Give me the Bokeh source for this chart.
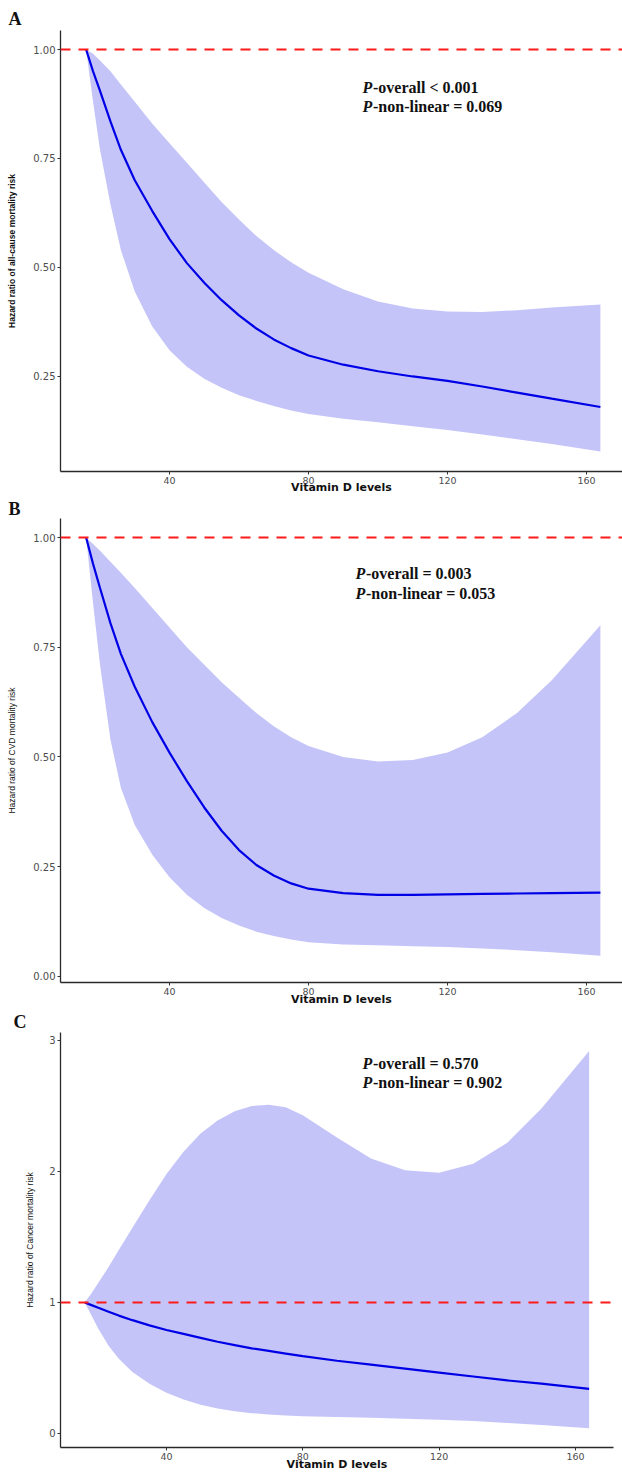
from bokeh.plotting import figure
from bokeh.layouts import column
from bokeh.models import Span, Label, FixedTicker, Range1d, PrintfTickFormatter
from bokeh.embed import file_html
from bokeh.resources import INLINE

# ---------------- data ----------------
vitd = [16, 18, 20, 23, 26, 30, 35, 40, 45, 50, 55, 60, 65, 70, 75, 80, 90, 100, 110, 120, 130, 140, 150, 164]

hr_all = [1.00, 0.95, 0.905, 0.835, 0.77, 0.70, 0.63, 0.565, 0.51, 0.465, 0.425, 0.39, 0.36, 0.335, 0.315, 0.298,
          0.277, 0.262, 0.25, 0.24, 0.227, 0.213, 0.199, 0.18]
hr_all_lo = [1.00, 0.88, 0.77, 0.645, 0.54, 0.445, 0.365, 0.31, 0.272, 0.245, 0.224, 0.207, 0.194, 0.182, 0.172, 0.164,
             0.153, 0.145, 0.136, 0.127, 0.117, 0.106, 0.095, 0.078]
hr_all_hi = [1.00, 0.99, 0.975, 0.95, 0.92, 0.88, 0.83, 0.785, 0.74, 0.695, 0.65, 0.61, 0.572, 0.54, 0.512, 0.488,
             0.45, 0.422, 0.406, 0.399, 0.398, 0.402, 0.408, 0.415]

hr_cvd = [1.00, 0.94, 0.885, 0.805, 0.735, 0.66, 0.58, 0.51, 0.445, 0.385, 0.332, 0.288, 0.254, 0.23, 0.212, 0.2,
          0.19, 0.186, 0.186, 0.187, 0.188, 0.189, 0.19, 0.191]
hr_cvd_lo = [1.00, 0.85, 0.71, 0.54, 0.43, 0.345, 0.278, 0.226, 0.186, 0.156, 0.133, 0.116, 0.102, 0.092, 0.084, 0.078,
             0.073, 0.071, 0.069, 0.067, 0.064, 0.06, 0.055, 0.047]
hr_cvd_hi = [1.00, 0.985, 0.97, 0.945, 0.92, 0.885, 0.84, 0.795, 0.75, 0.71, 0.67, 0.635, 0.60, 0.57, 0.545, 0.525,
             0.50, 0.49, 0.493, 0.51, 0.545, 0.60, 0.675, 0.80]

hr_cancer = [1.00, 0.98, 0.96, 0.93, 0.90, 0.865, 0.825, 0.79, 0.76, 0.73, 0.70, 0.675, 0.65, 0.63, 0.61, 0.59,
             0.555, 0.525, 0.495, 0.465, 0.435, 0.405, 0.38, 0.34]
hr_cancer_lo = [1.00, 0.90, 0.80, 0.67, 0.57, 0.47, 0.38, 0.31, 0.26, 0.22, 0.19, 0.17, 0.155, 0.145, 0.138, 0.132,
                0.125, 0.12, 0.113, 0.105, 0.095, 0.08, 0.065, 0.04]
hr_cancer_hi = [1.00, 1.07, 1.15, 1.27, 1.40, 1.57, 1.78, 1.98, 2.15, 2.29, 2.39, 2.46, 2.50, 2.51, 2.49, 2.43,
                2.26, 2.10, 2.01, 1.99, 2.06, 2.22, 2.48, 2.92]

x_ticks = [40, 80, 120, 160]
y_ticks_a = [0.25, 0.50, 0.75, 1.00]
y_ticks_b = [0.00, 0.25, 0.50, 0.75, 1.00]
y_ticks_c = [0, 1, 2, 3]

panel_letters = ["A", "B", "C"]
y_titles = ["Hazard ratio of all-cause mortality risk",
            "Hazard ratio of CVD mortality risk",
            "Hazard ratio of Cancer mortality risk"]
x_title = "Vitamin D levels"
p_overall = ["-overall < 0.001", "-overall = 0.003", "-overall = 0.570"]
p_nonlinear = ["-non-linear = 0.069", "-non-linear = 0.053", "-non-linear = 0.902"]

# ---------------- layout (page pixel geometry, origin top-left) ----------------
PAGE_W = 622
specs = [
    dict(ct=0, cb=496, fl=60, fr=622, ft=30, fb=471, xr=(8.63, 170.36), yr=(0.032, 1.0436),
         ticks=y_ticks_a, fmt="%.2f", ylab_standoff=13, ytitle_bold=True, letter_off=-52, letter_so=3,
         ptext=(362, 87, 106), xlab_standoff=-6),
    dict(ct=496, cb=1008, fl=60, fr=622, ft=518, fb=982, xr=(8.63, 170.36), yr=(-0.0137, 1.0433),
         ticks=y_ticks_b, fmt="%.2f", ylab_standoff=13, ytitle_bold=False, letter_off=-52, letter_so=0,
         ptext=(355, 573, 593), xlab_standoff=-5),
    dict(ct=1008, cb=1473, fl=55, fr=608, ft=1032, fb=1447, xr=(8.90, 171.15), yr=(-0.107, 3.061),
         ticks=y_ticks_c, fmt="%d", ylab_standoff=11, ytitle_bold=False, letter_off=-47, letter_so=1,
         ptext=(357, 1063, 1082), xlab_standoff=-5),
]
series = [(hr_all, hr_all_lo, hr_all_hi), (hr_cvd, hr_cvd_lo, hr_cvd_hi), (hr_cancer, hr_cancer_lo, hr_cancer_hi)]


def make_panel(i):
    s = specs[i]
    hr, lo, hi = series[i]
    fl, fr, ft, fb = s["fl"], s["fr"], s["ft"], s["fb"]
    x0, x1 = s["xr"]
    y0, y1 = s["yr"]

    def px2x(px):
        return x0 + (px - fl) * (x1 - x0) / (fr - fl)

    def py2y(py):
        return y1 - (py - ft) * (y1 - y0) / (fb - ft)

    p = figure(frame_width=fr - fl, frame_height=fb - ft,
               min_border_left=fl, min_border_right=PAGE_W - fr,
               min_border_top=ft - s["ct"], min_border_bottom=s["cb"] - fb,
               x_range=Range1d(x0, x1), y_range=Range1d(y0, y1),
               output_backend="svg", toolbar_location=None, title=panel_letters[i],
               background_fill_color="white", border_fill_color="white",
               outline_line_color=None)
    p.grid.visible = False

    # panel letter as title
    p.title.align = "left"
    p.title.offset = s["letter_off"]
    p.title.standoff = s["letter_so"]
    p.title.text_font = "Liberation Serif"
    p.title.text_font_style = "bold"
    p.title.text_font_size = "18px"
    p.title.text_color = "#111111"

    for ax in (p.xaxis[0], p.yaxis[0]):
        ax.axis_line_color = "#2a2a2a"
        ax.axis_line_width = 1.3
        ax.major_tick_line_color = "#333333"
        ax.major_tick_out = 3
        ax.major_tick_in = 0
        ax.minor_tick_line_color = None
        ax.major_label_text_font = "DejaVu Sans"
        ax.major_label_text_color = "#4d4d4d"
        ax.major_label_standoff = 2
        ax.axis_label_text_color = "#111111"
    p.xaxis.major_label_text_font_size = "9.5px"
    p.yaxis.major_label_text_font_size = "10px"
    p.xaxis.ticker = FixedTicker(ticks=x_ticks)
    p.yaxis.ticker = FixedTicker(ticks=s["ticks"])
    p.yaxis.formatter = PrintfTickFormatter(format=s["fmt"])

    p.xaxis.axis_label = x_title
    p.xaxis.axis_label_text_font = "DejaVu Sans"
    p.xaxis.axis_label_text_font_style = "bold"
    p.xaxis.axis_label_text_font_size = "11px"
    p.xaxis.axis_label_standoff = s["xlab_standoff"]

    p.yaxis.axis_label = y_titles[i]
    p.yaxis.axis_label_text_font = "Liberation Sans"
    p.yaxis.axis_label_text_font_style = "bold" if s["ytitle_bold"] else "normal"
    p.yaxis.axis_label_text_font_size = "8.5px"
    p.yaxis.axis_label_standoff = s["ylab_standoff"]

    p.varea(x=vitd, y1=lo, y2=hi, fill_color="#c4c4f9", fill_alpha=1.0)
    p.line(x=vitd, y=hr, line_color="#0000e6", line_width=2.2)
    p.add_layout(Span(location=1.0, dimension="width", line_color="#ff1a1a",
                      line_width=2, line_dash="10 8"))

    # P-value annotations
    tx, l1, l2 = s["ptext"]
    for py, rest in ((l1, p_overall[i]), (l2, p_nonlinear[i])):
        p.add_layout(Label(x=px2x(tx), y=py2y(py), text="P",
                           text_font="Liberation Serif", text_font_style="bold italic",
                           text_font_size="16px", text_align="left", text_baseline="middle",
                           text_color="#111111"))
        p.add_layout(Label(x=px2x(tx), y=py2y(py), x_offset=10.5, text=rest,
                           text_font="Liberation Serif", text_font_style="bold",
                           text_font_size="16px", text_align="left", text_baseline="middle",
                           text_color="#111111"))
    return p


layout = column(make_panel(0), make_panel(1), make_panel(2), spacing=0)
open("out.html", "w").write(file_html(layout, INLINE))
